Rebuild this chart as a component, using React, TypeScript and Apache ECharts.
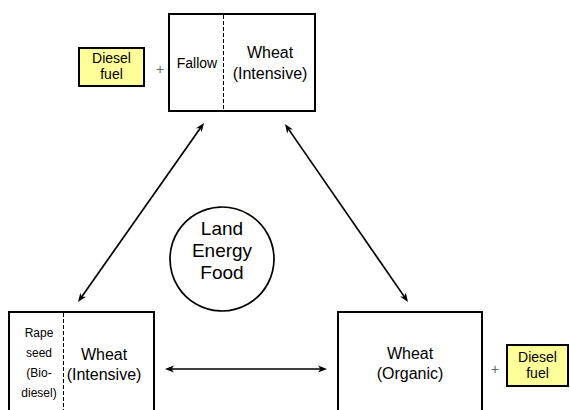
import React, { useEffect, useRef } from "react";
import * as echarts from "echarts";

// Diagram content
const centerLabels = ["Land", "Energy", "Food"];
const topLeftLabel = ["Fallow"];
const wheatIntensiveLabel = ["Wheat", "(Intensive)"];
const rapeLabel = ["Rape", "seed", "(Bio-", "diesel)"];
const wheatOrganicLabel = ["Wheat", "(Organic)"];
const dieselLabel = ["Diesel", "fuel"];
const plusLabel = "+";

const FONT = "'Liberation Sans', Arial, Helvetica, sans-serif";

function arrowHead(tx: number, ty: number, fx: number, fy: number, len = 9, half = 3.5) {
  const dx = tx - fx;
  const dy = ty - fy;
  const d = Math.hypot(dx, dy);
  const ux = dx / d;
  const uy = dy / d;
  const bx = tx - ux * len;
  const by = ty - uy * len;
  return {
    type: "polygon",
    shape: {
      points: [
        [tx, ty],
        [bx - uy * half, by + ux * half],
        [bx + ux * 2.5, by + uy * 2.5],
        [bx + uy * half, by - ux * half],
      ],
    },
    style: { fill: "#000" },
  };
}

function doubleArrow(x1: number, y1: number, x2: number, y2: number) {
  const dx = x2 - x1;
  const dy = y2 - y1;
  const d = Math.hypot(dx, dy);
  const ux = dx / d;
  const uy = dy / d;
  return [
    {
      type: "line",
      shape: { x1: x1 + ux * 5, y1: y1 + uy * 5, x2: x2 - ux * 5, y2: y2 - uy * 5 },
      style: { stroke: "#000", lineWidth: 1.7 },
    },
    arrowHead(x1, y1, x2, y2),
    arrowHead(x2, y2, x1, y1),
  ];
}

function text(lines: string[], x: number, y: number, size: number, lh: number, color = "#000") {
  return {
    type: "text",
    x,
    y,
    style: {
      text: lines.join("\n"),
      font: `${size}px ${FONT}`,
      fill: color,
      align: "center",
      verticalAlign: "middle",
      lineHeight: lh,
    },
  };
}

function box(x: number, y: number, w: number, h: number, fill = "#fff") {
  return {
    type: "rect",
    shape: { x, y, width: w, height: h },
    style: { fill, stroke: "#000", lineWidth: 2 },
  };
}

function dashed(x: number, y1: number, y2: number) {
  return {
    type: "line",
    shape: { x1: x, y1, x2: x, y2 },
    style: { stroke: "#000", lineWidth: 1, lineDash: [4, 2] },
  };
}

export default function App() {
  const ref = useRef<HTMLDivElement>(null);
  useEffect(() => {
    if (!ref.current) return;
    const chart = echarts.init(ref.current, undefined, { renderer: "svg" });
    const elements: any[] = [
      // top box
      box(169, 14, 146, 97),
      dashed(223.5, 15, 110),
      text(topLeftLabel, 197, 63, 14, 16),
      text(wheatIntensiveLabel, 270, 63, 16, 21),
      // top diesel
      box(79, 48, 65, 38, "#FFFF99"),
      text(dieselLabel, 111.5, 66, 14, 16),
      text([plusLabel], 160, 69, 14, 16, "#666"),
      // bottom-left box
      box(9, 312, 145, 120),
      dashed(63.5, 313, 410),
      text(rapeLabel, 39, 363, 12, 20),
      text(wheatIntensiveLabel, 104, 364, 16, 20),
      // bottom-right box
      box(338, 312, 144, 120),
      text(wheatOrganicLabel, 410, 363, 16, 20),
      text([plusLabel], 495, 369, 14, 16, "#666"),
      box(507, 345, 61, 41, "#FFFF99"),
      text(dieselLabel, 537.5, 365, 14, 16),
      // center circle
      {
        type: "circle",
        shape: { cx: 222, cy: 259, r: 52 },
        style: { fill: "#fff", stroke: "#000", lineWidth: 1.7 },
      },
      text(centerLabels, 222, 250, 19, 22),
      // arrows
      ...doubleArrow(204, 123, 78, 302),
      ...doubleArrow(285, 124, 408, 302),
      ...doubleArrow(165, 369, 327, 369),
    ];
    chart.setOption({
      animation: false,
      backgroundColor: "#fff",
      graphic: { elements },
    });
    return () => chart.dispose();
  }, []);
  return (
    <div
      ref={ref}
      style={{ position: "fixed", left: 0, top: 0, width: 570, height: 410 }}
    />
  );
}
